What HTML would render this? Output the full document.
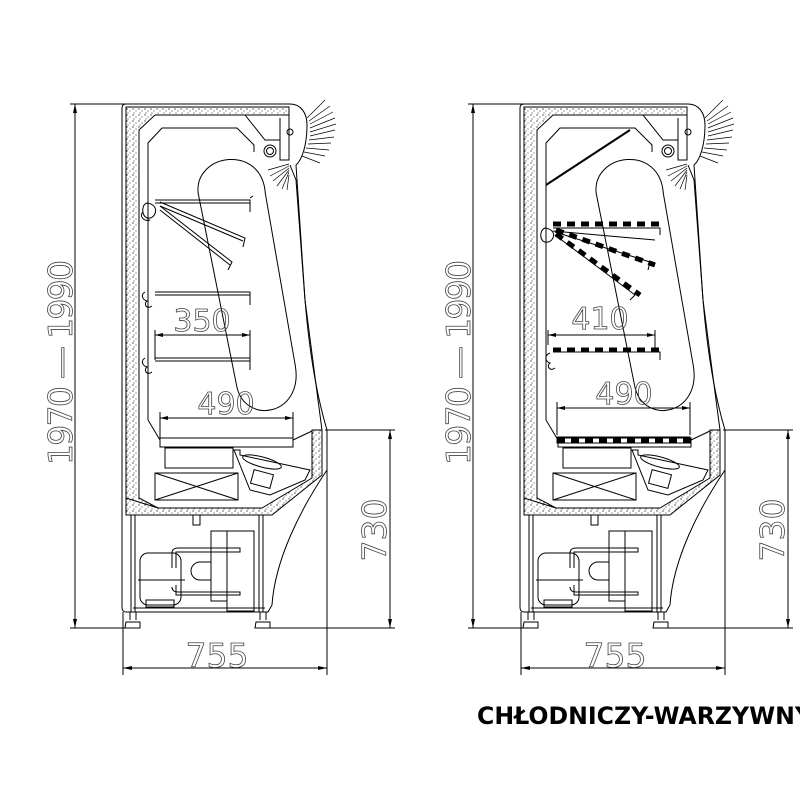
<!DOCTYPE html>
<html><head><meta charset="utf-8"><style>
html,body{margin:0;padding:0;background:#fff;width:800px;height:800px;overflow:hidden}
svg{display:block}
text{font-family:"DejaVu Sans","Liberation Sans",sans-serif}
</style></head><body>
<svg width="800" height="800" viewBox="0 0 800 800" xmlns="http://www.w3.org/2000/svg">
<defs>
<pattern id="dots" width="6" height="6" patternUnits="userSpaceOnUse">
<rect width="6" height="6" fill="#fff"/>
<circle cx="1" cy="1" r="0.6" fill="#000"/><circle cx="4" cy="3" r="0.5" fill="#000"/><circle cx="2" cy="5" r="0.5" fill="#000"/>
</pattern>
<g id="cab" fill="none" stroke="#000" stroke-width="1">
  <path d="M126 104 L290 104 C300 104 307 112 307 125 C307 145 302 160 296 165 L305 300 C310 360 318 400 327 430 L327 470 C300 510 275 560 272 605 L268 612 L126 612 C123 612 122 610 122 607 L122 108 C122 105 124 104 126 104 Z"/>
  <path d="M126 107 L289 107 L289 115 L155 115 L139 130 L139 498 L158 508 L126 508 Z" fill="url(#dots)"/>
  <path d="M126 498 L158 508 L262 508 L312 478 L312 430 L322 430 L322 475 L272 515 L126 515 Z" fill="url(#dots)"/>
  <path d="M289 115 L289 160 L280 160 L280 118"/>
  <path d="M245 115 L265 140 L280 140"/>
  <circle cx="270" cy="151" r="6"/><circle cx="270" cy="151" r="3.5"/>
  <circle cx="290" cy="132" r="3"/>
  <path d="M148 420 L148 143 L162 128 L237 128 L254 145 L254 152"/>
  <path d="M148 420 L160 440"/>
  <path d="M290 165 L296 180 L305 300 L318 400 L322 430"/>
  <path d="M205 190 C204 150 272 145 272 195 L290 370 C294 420 235 425 230 385 Z" transform="rotate(-4 245 290)"/>
  <rect x="160" y="438" width="133" height="9"/>
  <path d="M293 440 L312 431"/>
  <rect x="165" y="448" width="68" height="20"/>
  <rect x="155" y="473" width="83" height="27"/>
  <path d="M155 473 L238 500 M155 500 L238 473"/>
  <path d="M234 450 L240 450 L240 455 L310 470 L305 480 L270 495 L250 490 Z"/>
  <ellipse cx="262" cy="462" rx="20" ry="5" transform="rotate(15 262 462)"/>
  <rect x="252" y="472" width="20" height="14" transform="rotate(15 262 479)"/>
  <rect x="193" y="515" width="7" height="10"/>
  <path d="M131 515 L131 612 M135 515 L135 612 M259 515 L259 612 M263 515 L263 612"/>
  <path d="M133 612 L265 612 M133 608 L265 608"/>
  <path d="M130 612 L130 620 M136 612 L136 620 M260 612 L260 620 M266 612 L266 620"/>
  <path d="M126 622 L140 622 L140 628 L125 628 Z M256 622 L270 622 L270 628 L255 628 Z"/>
  <rect x="140" y="553" width="41" height="52" rx="8"/>
  <rect x="146" y="600" width="28" height="7"/>
  <path d="M138 580 L185 580"/>
  <rect x="211" y="531" width="16" height="70"/>
  <rect x="227" y="531" width="27" height="80"/>
  <path d="M200 562 L211 562 L211 580 L200 580 A9 9 0 0 1 200 562 Z"/>
  <path d="M176 568 L176 552 L240 552 L240 548 L178 548 C174 548 172 550 172 553 L172 568 M176 585 L176 595 L240 595 L240 592 L178 592 C174 592 172 590 172 587"/>
  <g stroke-width="0.7">
  <path d="M307 118 L325 100 M309 121 L330 106 M310 124 L333 112 M310 128 L335 118 M310 132 L336 124 M310 136 L335 130 M309 140 L334 137 M308 144 L331 143 M306 148 L329 150 M304 152 L325 156 M302 156 L320 163"/>
  <path d="M289 164 L268 170 M289 166 L270 176 M289 168 L273 181 M289 170 L277 186 M289 172 L282 189 M289 175 L287 190"/>
  </g>
</g>
</defs>

<use href="#cab"/>
<g fill="none" stroke="#000" stroke-width="1">
  <path d="M155 200 L250 200 L250 212 M155 203 L250 203 M250 198 L253 196"/>
  <path d="M160 202 L245 238 L243 247 M160 206 L243 241"/>
  <path d="M160 206 L232 262 L228 270 M160 210 L230 265"/>
  <path d="M147 203 C140 205 142 220 150 218 C156 217 160 205 147 203 Z"/>
  <path d="M143 212 C139 215 143 222 150 220"/>
  <path d="M155 292 L250 292 L250 305 M155 295 L250 295 M145 292 C140 295 143 300 147 301 C143 304 147 310 152 306"/>
  <path d="M155 358 L250 358 L250 370 M155 361 L250 361 M145 358 C140 361 143 366 147 367 C143 370 147 376 152 372"/>
  <path d="M155 335 L250 335 M155 330 L155 360 M250 330 L250 360"/>
  <path d="M160 418 L293 418 M160 412 L160 440 M293 412 L293 440"/>
</g>
<g fill="#000"><path d="M155 335 l8 -2 v4 z M250 335 l-8 -2 v4 z M160 418 l8 -2 v4z M293 418 l-8 -2 v4z"/></g>
<text x="202" y="331" font-size="30" text-anchor="middle" fill="none" stroke="#444" stroke-width="0.8" font-family="Liberation Sans">350</text>
<text x="226" y="414" font-size="30" text-anchor="middle" fill="none" stroke="#444" stroke-width="0.8" font-family="Liberation Sans">490</text>

<use href="#cab" transform="translate(398 0)"/>
<g fill="none" stroke="#000" stroke-width="1">
  <path d="M546 185 L630 130" stroke-width="2"/>
  <path d="M553 228 L660 228 L660 235 M553 231 L655 240"/>
  <path d="M555 232 L650 262 L648 270"/>
  <path d="M555 235 L635 295 L630 300"/>
  <path d="M545 228 C538 231 540 244 548 242 C554 241 558 230 545 228 Z"/>
  <path d="M553 352 L660 352 L660 360 M550 353 C543 356 546 362 550 363 C546 366 550 372 555 368"/>
  <path d="M548 335 L655 335 M548 330 L548 345 M655 330 L655 350"/>
  <path d="M557 408 L690 408 M557 402 L557 435 M690 402 L690 435"/>
  <rect x="557" y="437" width="133" height="6"/>
</g>
<g fill="#000">
  <path d="M548 335 l8 -2 v4 z M655 335 l-8 -2 v4 z M557 408 l8 -2 v4z M690 408 l-8 -2 v4z"/>
</g>
<g stroke="#000" stroke-width="5" stroke-dasharray="8 6" fill="none">
  <path d="M553 224 L662 224"/>
  <path d="M556 230 L655 265"/>
  <path d="M556 234 L640 295"/>
  <path d="M553 350 L662 350"/>
  <path d="M557 440 L690 440"/>
</g>
<text x="600" y="329" font-size="30" text-anchor="middle" fill="none" stroke="#444" stroke-width="0.8" font-family="Liberation Sans">410</text>
<text x="624" y="404" font-size="30" text-anchor="middle" fill="none" stroke="#444" stroke-width="0.8" font-family="Liberation Sans">490</text>

<g fill="none" stroke="#000" stroke-width="1">
  <path d="M70 104 L125 104 M70 628 L130 628 M75 104 L75 628"/>
  <path d="M325 430 L395 430 M265 628 L395 628 M390 430 L390 628"/>
  <path d="M123 612 L123 675 M327 470 L327 675 M123 668 L327 668"/>
  <path d="M468 104 L523 104 M468 628 L528 628 M473 104 L473 628"/>
  <path d="M723 430 L793 430 M663 628 L793 628 M788 430 L788 628"/>
  <path d="M521 612 L521 675 M725 470 L725 675 M521 668 L725 668"/>
</g>
<g fill="#000">
  <path d="M75 104 l-2 9 h4z M75 628 l-2 -9 h4z M390 430 l-2 9 h4z M390 628 l-2 -9 h4z M123 668 l9 -2 v4z M327 668 l-9 -2 v4z"/>
  <path d="M473 104 l-2 9 h4z M473 628 l-2 -9 h4z M788 430 l-2 9 h4z M788 628 l-2 -9 h4z M521 668 l9 -2 v4z M725 668 l-9 -2 v4z"/>
</g>
<g font-family="Liberation Sans" font-size="33" fill="none" stroke="#444" stroke-width="0.8">
  <text x="217" y="667" text-anchor="middle">755</text>
  <text x="615" y="667" text-anchor="middle">755</text>
  <text transform="translate(386 530) rotate(-90)" text-anchor="middle">730</text>
  <text transform="translate(784 530) rotate(-90)" text-anchor="middle">730</text>
  <text transform="translate(72 465) rotate(-90)" textLength="205" lengthAdjust="spacing">1970 — 1990</text>
  <text transform="translate(470 465) rotate(-90)" textLength="205" lengthAdjust="spacing">1970 — 1990</text>
</g>
<text x="477" y="724" font-size="24" font-family="Liberation Sans" font-weight="bold" textLength="335" lengthAdjust="spacingAndGlyphs" fill="#000">CHŁODNICZY-WARZYWNY</text>
</svg>
</body></html>
